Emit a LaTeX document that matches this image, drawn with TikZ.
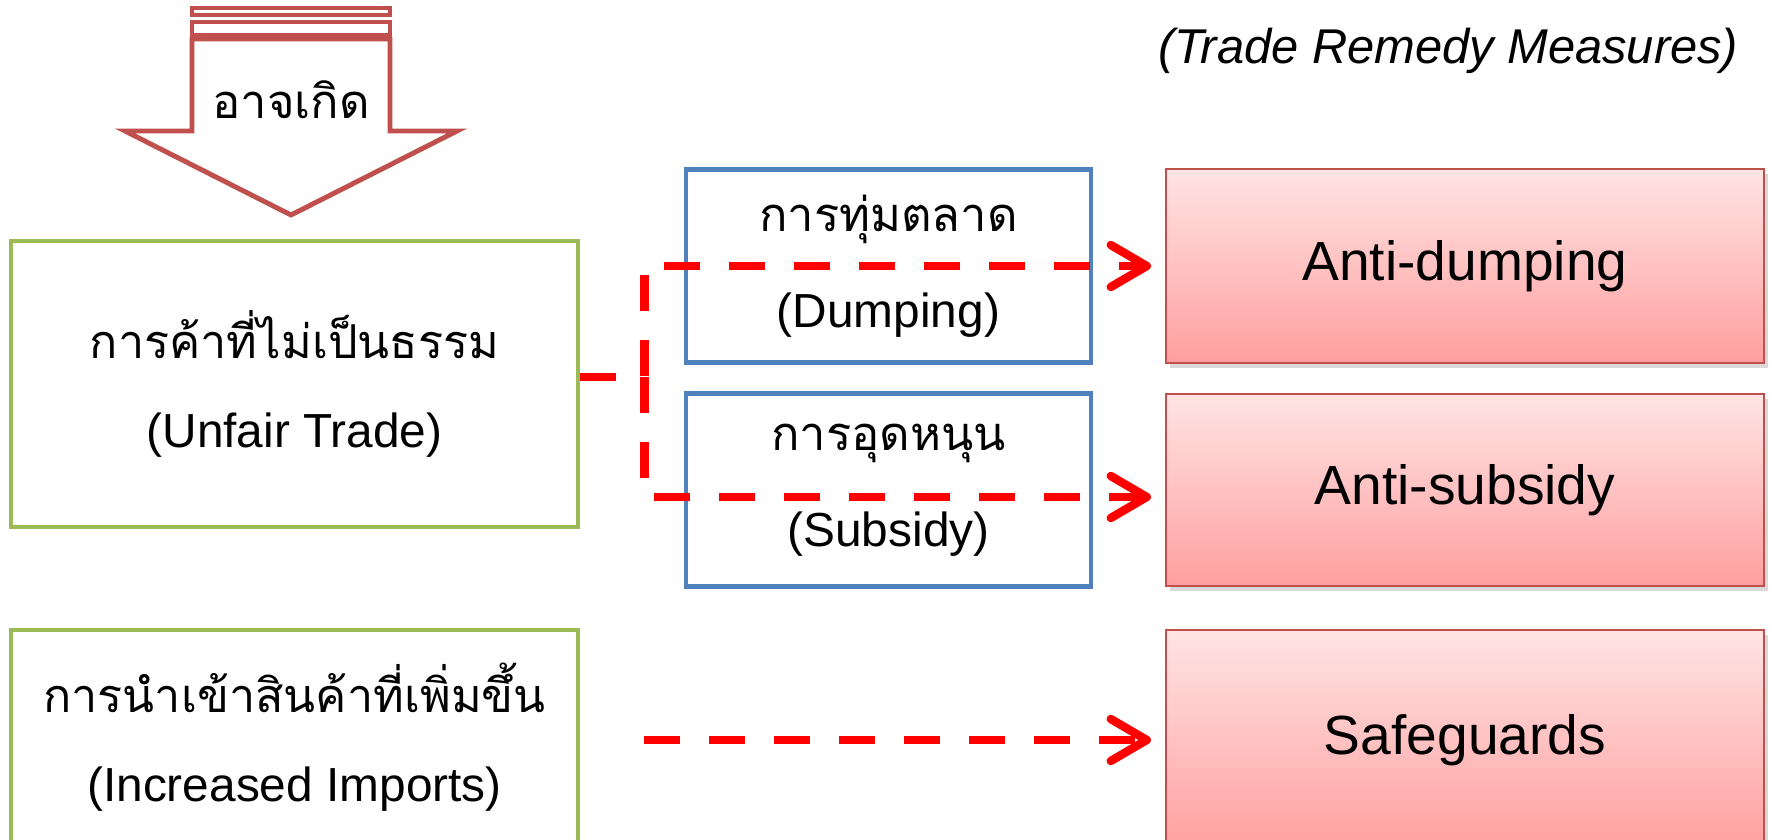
\documentclass[tikz,border=0pt]{standalone}
\usepackage{fontspec}
\setmainfont{Liberation Sans}
\newfontfamily\thaifont[Script=Thai]{Loma}
\usetikzlibrary{arrows.meta,shadows}
\definecolor{boxgreen}{HTML}{9BBB59}
\definecolor{boxblue}{HTML}{4F81BD}
\definecolor{arrowred}{HTML}{C0504D}
\definecolor{pinktop}{HTML}{FFE4E4}
\definecolor{pinkbot}{HTML}{FF9F9F}
\definecolor{lineRed}{HTML}{FF0000}

\tikzset{
	greenbox/.style={draw=boxgreen, line width=1.3pt, fill=white, minimum width=56.7mm, align=center, font=\fontsize{13.6}{25.2}\selectfont},
	bluebox/.style={draw=boxblue, line width=1.2pt, fill=white, minimum width=40.5mm, minimum height=19.3mm, align=center, font=\fontsize{13.6}{27.4}\selectfont},
	redbox/.style={draw=arrowred, line width=0.6pt, top color=pinktop, bottom color=pinkbot, minimum width=59.8mm, drop shadow={shadow xshift=0.4mm, shadow yshift=-0.5mm, opacity=0.3}, font=\fontsize{15.7}{18}\selectfont},
	dashline/.style={draw=lineRed, line width=2.4pt, dash pattern=on 3.6mm off 2.9mm, -{Straight Barb[round, length=3.6mm, width=4.2mm]}, shorten >=1.4mm}
}

\begin{document}
\begin{tikzpicture}[x=0.1mm, y=-0.1mm]
		\useasboundingbox (0,0) rectangle (1771,840);
		% block arrow on top
		\draw[arrowred, line width=1.4pt] (192,8) rectangle (390,15);
		\draw[arrowred, line width=1.4pt] (192,22) rectangle (390,35);
		\draw[arrowred, line width=1.4pt, line join=miter] (192,39) -- (192,131) -- (125,131) -- (291,215) -- (457,131) -- (390,131) -- (390,39) -- cycle;
		\node (mayoccur) at (291,100) {\thaifont\fontsize{13.4}{18}\selectfont อาจเกิด};

		% left side
		\node[greenbox, minimum height=28.6mm] (unfair) at (294.5,384) {{\thaifont\fontsize{13.3}{25.2}\selectfont การค้าที่ไม่เป็นธรรม}\\(Unfair Trade)};
		\node[greenbox, minimum height=21.4mm] (increased) at (294.5,737) {{\thaifont\fontsize{13.3}{25.2}\selectfont การนำเข้าสินค้าที่เพิ่มขึ้น}\\(Increased Imports)};

		% middle
		\node[bluebox] (dumping) at (888.5,266) {{\thaifont\fontsize{13.4}{27.4}\selectfont การทุ่มตลาด}\\(Dumping)};
		\node[bluebox] (subsidy) at (888.5,490) {{\thaifont\fontsize{13.4}{27.4}\selectfont การอุดหนุน}\\(Subsidy)};

		% measures
		\node[redbox, minimum height=19.4mm] (antidump) at (1465,266) {Anti-dumping};
		\node[redbox, minimum height=19.2mm] (antisub) at (1465,490) {Anti-subsidy};
		\node[redbox, minimum height=22mm] (safe) at (1465,740) {Safeguards};
		\node[inner sep=0pt, anchor=east, font=\itshape\fontsize{13.9}{16}\selectfont] (remedy) at (1739,51) {(Trade Remedy Measures)};

		% dashed links
		\coordinate (split) at ([xshift=6.4mm, yshift=0.7mm]unfair.east);
		\draw[dashline] ([yshift=0.7mm]unfair.east) -- (split) |- (antidump.west);
		\draw[dashline] (split) |- ([yshift=-0.7mm]antisub.west);
		\draw[dashline] (safe.west -| split) -- (safe.west);
	\end{tikzpicture}
\end{document}
